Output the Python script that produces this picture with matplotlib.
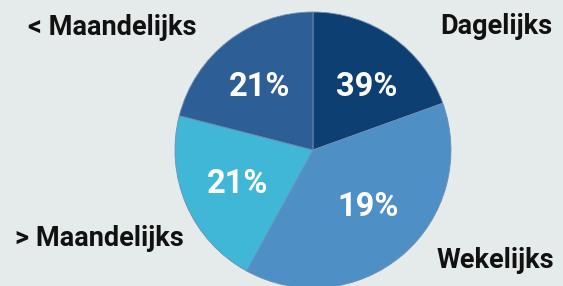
import numpy as np
import matplotlib.pyplot as plt

# slice sizes (as drawn) and the labels shown inside them
categories = ["Dagelijks", "Wekelijks", "> Maandelijks", "< Maandelijks"]
values = [19.5, 38.5, 21, 21]
pct_labels = ["39%", "19%", "21%", "21%"]
colors = ["#0e3f73", "#4e8fc6", "#40b7d7", "#2e5e96"]

# label placement tweaks: distance from centre and angle shift (deg, clockwise)
label_dist = [0.62, 0.555, 0.59, 0.62]
label_shift = [4, -5.5, 1.5, -1]

bg = "#e5eaea"
plt.rcParams["font.family"] = ["Roboto", "DejaVu Sans"]

fig = plt.figure(figsize=(5.63, 2.86), dpi=100, facecolor=bg)
ax = fig.add_axes([0.3108, -0.007, 0.4902, 0.965])
ax.set_facecolor(bg)

wedges, _ = ax.pie(values, colors=colors, startangle=90, counterclock=False,
                   radius=1, wedgeprops=dict(edgecolor="#6f8fb5", linewidth=0.6))
ax.set_xlim(-1, 1)
ax.set_ylim(-1, 1)
ax.set_aspect("equal")
ax.axis("off")

for w, lab, d, s in zip(wedges, pct_labels, label_dist, label_shift):
    ang = np.deg2rad((w.theta1 + w.theta2) / 2 - s)
    ax.text(d * np.cos(ang), d * np.sin(ang), lab, ha="center", va="center_baseline",
            color="white", fontsize=23.5, fontweight="bold")

# outer labels sit in the corners
outer = {
    "Dagelijks": (440, 34),
    "Wekelijks": (437, 268),
    "> Maandelijks": (15, 246),
    "< Maandelijks": (28, 35),
}
W, H = 563, 286
for name in categories:
    x, y = outer[name]
    fig.text(x / W, 1 - y / H, name, ha="left", va="baseline",
             fontsize=19.5, fontweight="bold", color="#111111")

fig.savefig("out.png", dpi=100, facecolor=bg)
